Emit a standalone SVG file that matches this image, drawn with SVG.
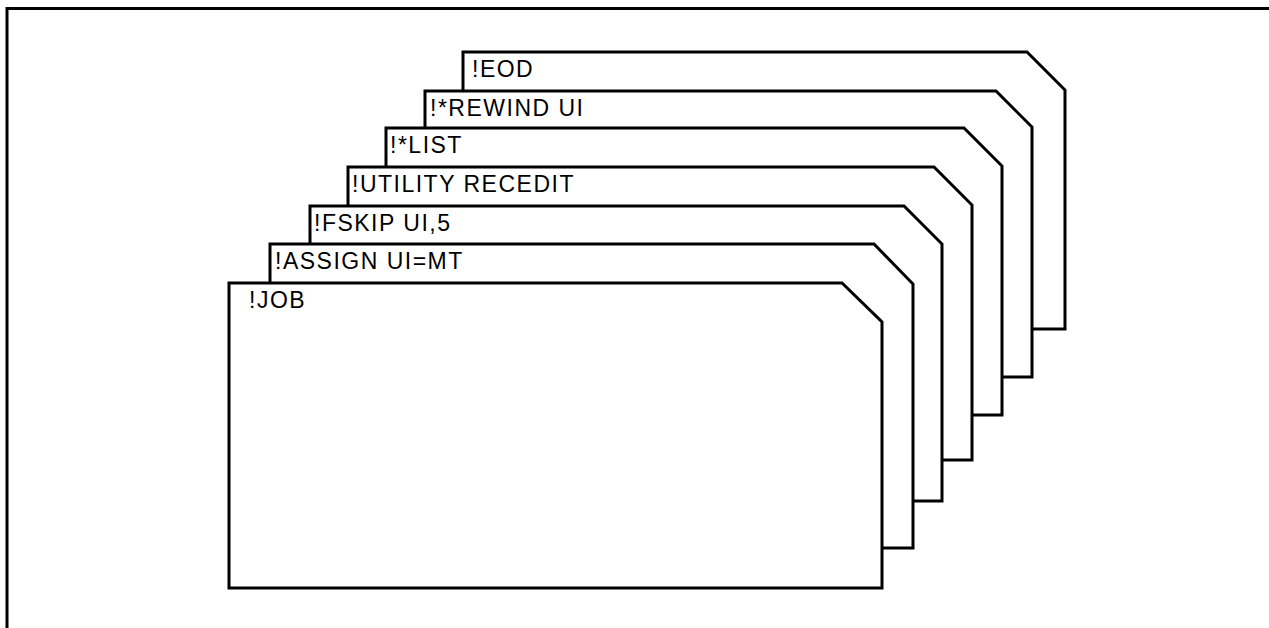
<svg xmlns="http://www.w3.org/2000/svg" width="1269" height="628" viewBox="0 0 1269 628">
<style>
.card{fill:#fff;stroke:#000;stroke-width:3;stroke-linejoin:miter}
.lbl{font-family:"Liberation Sans",Arial,sans-serif;font-size:23px;letter-spacing:1.5px;fill:#000}
.frame{fill:none;stroke:#000;stroke-width:3}
</style>
<rect width="1269" height="628" fill="#fff"/>
<path class="frame" d="M7,628 L7,8.5 L1269,8.5"/>
<g id="card-eod">
<path class="card" d="M463,329 L463,52 L1027,52 L1065,90 L1065,329 Z"/>
<text class="lbl" x="472" y="77">!EOD</text>
</g>
<g id="card-rewind">
<path class="card" d="M425,377 L425,91 L996,91 L1032,127 L1032,377 Z"/>
<text class="lbl" x="430" y="116">!*REWIND UI</text>
</g>
<g id="card-list">
<path class="card" d="M386,415 L386,128 L964,128 L1002,166 L1002,415 Z"/>
<text class="lbl" x="390" y="153">!*LIST</text>
</g>
<g id="card-utility">
<path class="card" d="M348,460 L348,167 L934,167 L972,205 L972,460 Z"/>
<text class="lbl" x="352" y="192">!UTILITY RECEDIT</text>
</g>
<g id="card-fskip">
<path class="card" d="M310,501 L310,206 L904,206 L942,244 L942,501 Z"/>
<text class="lbl" x="314" y="231">!FSKIP UI,5</text>
</g>
<g id="card-assign">
<path class="card" d="M270,548 L270,244 L874,244 L913,284 L913,548 Z"/>
<text class="lbl" x="275" y="269">!ASSIGN UI=MT</text>
</g>
<g id="card-job">
<path class="card" d="M229,588 L229,283 L842,283 L882,322 L882,588 Z"/>
<text class="lbl" x="249" y="308">!JOB</text>
</g>
<g id="connectors"></g>
</svg>
